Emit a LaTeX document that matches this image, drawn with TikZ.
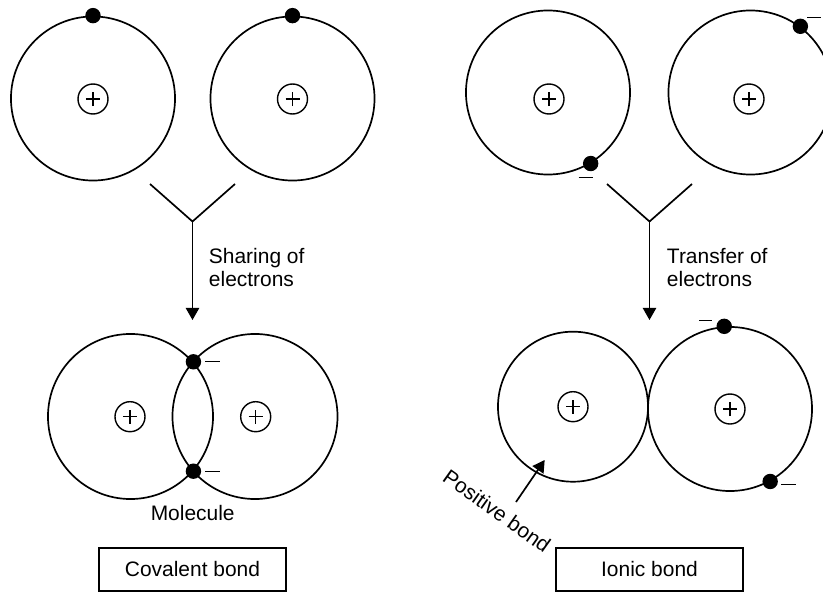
\documentclass[tikz,border=0pt]{standalone}
\usepackage{fontspec}
\setmainfont{Liberation Sans}
\usepackage{tikz}
\usetikzlibrary{arrows.meta, positioning, calc}

\begin{document}
\begin{tikzpicture}[x=0.025cm, y=-0.025cm,
  font=\fontsize{14.9}{16.3}\selectfont,
  orbit/.style={draw, circle, line width=1.2pt, inner sep=0pt},
  nucleus/.style={draw, circle, line width=1pt, minimum size=0.75cm, inner sep=0pt,
    path picture={\draw[line width=0.9pt]
      ([xshift=-0.175cm]path picture bounding box.center) -- ([xshift=0.175cm]path picture bounding box.center)
      ([yshift=-0.175cm]path picture bounding box.center) -- ([yshift=0.175cm]path picture bounding box.center);}},
  electron/.style={fill, circle, minimum size=0.385cm, inner sep=0pt},
  charge/.style={line width=0.9pt},
  link/.style={line width=1.2pt},
  flow/.style={line width=1.2pt, -{Triangle[length=0.3cm, width=0.33cm]}},
  bondbox/.style={draw, line width=1.2pt, minimum width=4.675cm, minimum height=1.075cm}
]
\useasboundingbox (0,0) rectangle (823,592);

% covalent: two separate atoms
\node[orbit, minimum size=4.1cm] (oa) at (93,98.5) {};
\node[orbit, minimum size=4.1cm] (ob) at (292.5,98.5) {};
\node[nucleus] (na) at (93,99) {};
\node[nucleus] (nb) at (292.5,99) {};
\node[electron] (ea) at (oa.north) {};
\node[electron] (eb) at (ob.north) {};

\coordinate (sa) at (150,184);
\coordinate (sb) at (235,184);
\coordinate (sj) at (192.5,221.5);
\coordinate (st) at (192.5,320);
\draw[link] (sa) -- (sj) -- (sb);
\draw[flow] (sj) -- (st);
\node[anchor=base west, align=left] (share) at (204,286) {Sharing of\\electrons};

% covalent: molecule
\node[orbit, minimum size=4.125cm] (ml) at (130.5,416.5) {};
\node[orbit, minimum size=4.125cm] (mr) at (255,416.5) {};
\node[nucleus] (nl) at (130,416.7) {};
\node[nucleus] (nr) at (255.7,416.7) {};
\node[electron] (eu) at (ml.41) {};
\node[electron] (ew) at (ml.-41) {};
\draw[charge] ($(eu)+(12,0)$) -- ++(15,0);
\draw[charge] ($(ew)+(12,0)$) -- ++(15,0);
\node[anchor=base] (mol) at (192.7,520) {Molecule};
\node[bondbox] (cov) at (192.5,569.5) {Covalent bond};

% ionic: two separate atoms
\node[orbit, minimum size=4.1cm] (oc) at (548,92.5) {};
\node[orbit, minimum size=4.1cm] (od) at (750.5,92.5) {};
\node[nucleus] (nc) at (549,99) {};
\node[nucleus] (nd) at (749,99) {};
\node[electron] (ec) at (oc.-59.5) {};
\node[electron] (ed) at (od.53.5) {};
\draw[charge] ($(ec)+(-12,14)$) -- ++(14,0);
\draw[charge] ($(ed)+(7,-9)$) -- ++(14,0);

\coordinate (ta) at (607,184);
\coordinate (tb) at (692,184);
\coordinate (tj) at (649.5,221.5);
\coordinate (tt) at (649.5,320);
\draw[link] (ta) -- (tj) -- (tb);
\draw[flow] (tj) -- (tt);
\node[anchor=base west, align=left] (transfer) at (662,286) {Transfer of\\electrons};

% ionic: ions
\node[orbit, minimum size=3.75cm] (oe) at (573,406.7) {};
\node[orbit, minimum size=4.1cm] (of) at (730,409) {};
\node[nucleus] (ne) at (573,406.7) {};
\node[nucleus] (nf) at (730,409) {};
\node[electron] (ef) at (of.94.2) {};
\node[electron] (eg) at (of.-61.7) {};
\draw[charge] ($(ef)+(-25,-6)$) -- ++(13,0);
\draw[charge] ($(eg)+(11,3)$) -- ++(15,0);

\coordinate (pb) at (516,502);
\coordinate (pt) at (544.7,460);
\draw[flow] (pb) -- (pt);
\node[rotate=-35.4] (pos) at (497,511) {Positive bond};
\node[bondbox] (ion) at (649.5,569.5) {Ionic bond};
\end{tikzpicture}
\end{document}
